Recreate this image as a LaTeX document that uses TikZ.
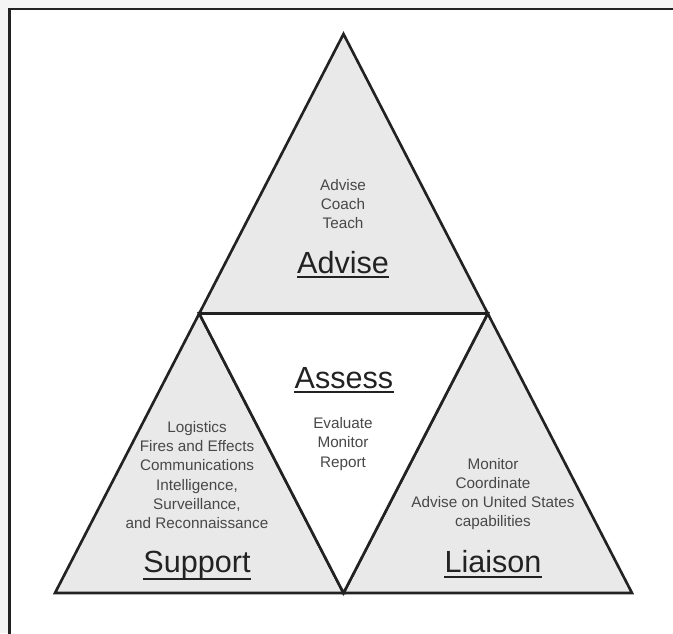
\documentclass[tikz,border=0pt]{standalone}
\usepackage{fontspec}
\setmainfont{Liberation Sans}
\usetikzlibrary{positioning}
\definecolor{trifill}{RGB}{233,233,233}
\definecolor{pagegray}{RGB}{244,244,244}
\definecolor{linedark}{RGB}{34,34,34}
\definecolor{textgray}{RGB}{72,72,72}
\tikzstyle{tri} = [fill=trifill, draw=linedark, line width=1.5pt, line join=miter]
\tikzstyle{tasks} = [align=center, text=textgray, inner sep=0pt, font=\fontsize{8.7}{10.9}\selectfont]
\tikzstyle{title} = [anchor=base, text=linedark, inner sep=0pt, font=\fontsize{17.4}{20}\selectfont]
\tikzstyle{uline} = [draw=linedark, line width=1.1pt]

\begin{document}
\begin{tikzpicture}[x=0.02cm, y=-0.02cm]
\useasboundingbox (0,0) rectangle (673,633);

% Frame
\fill[pagegray] (0,0) rectangle (673,633);
\fill[white] (9.5,9) rectangle (673,633);
\draw[linedark, line width=1.6pt] (9.5,640) -- (9.5,9) -- (680,9);

% Corners of the triangle
\coordinate (apex) at (343.5,34);
\coordinate (ml) at (199.25,313.5);
\coordinate (mr) at (487.75,313.5);
\coordinate (bl) at (55,593);
\coordinate (bm) at (343.5,593);
\coordinate (br) at (632,593);

% Three outer parts
\filldraw[tri] (apex) -- (ml) -- (mr) -- cycle;
\filldraw[tri] (ml) -- (bl) -- (bm) -- cycle;
\filldraw[tri] (mr) -- (bm) -- (br) -- cycle;
\draw[tri, fill=white] (ml) -- (mr) -- (bm) -- cycle;

% Advise
\node[tasks] (advlist) at (343,204) {Advise\\Coach\\Teach};
\node[title] (advtitle) at (343,273) {Advise};
\draw[uline] ([yshift=-2.5pt]advtitle.base west) -- ([yshift=-2.5pt]advtitle.base east);

% Assess
\node[title] (asstitle) at (344,388) {Assess};
\draw[uline] ([yshift=-2.5pt]asstitle.base west) -- ([yshift=-2.5pt]asstitle.base east);
\node[tasks] (asslist) at (343,444) {Evaluate\\Monitor\\Report};

% Support
\node[tasks] (suplist) at (197,475) {Logistics\\Fires and Effects\\Communications\\Intelligence,\\Surveillance,\\and Reconnaissance};
\node[title] (suptitle) at (197,572) {Support};
\draw[uline] ([yshift=-4pt]suptitle.base west) -- ([yshift=-4pt]suptitle.base east);

% Liaison
\node[tasks] (liaslist) at (493,494) {Monitor\\Coordinate\\Advise on United States\\capabilities};
\node[title] (liastitle) at (493,572) {Liaison};
\draw[uline] ([yshift=-2.8pt]liastitle.base west) -- ([yshift=-2.8pt]liastitle.base east);
\end{tikzpicture}
\end{document}
